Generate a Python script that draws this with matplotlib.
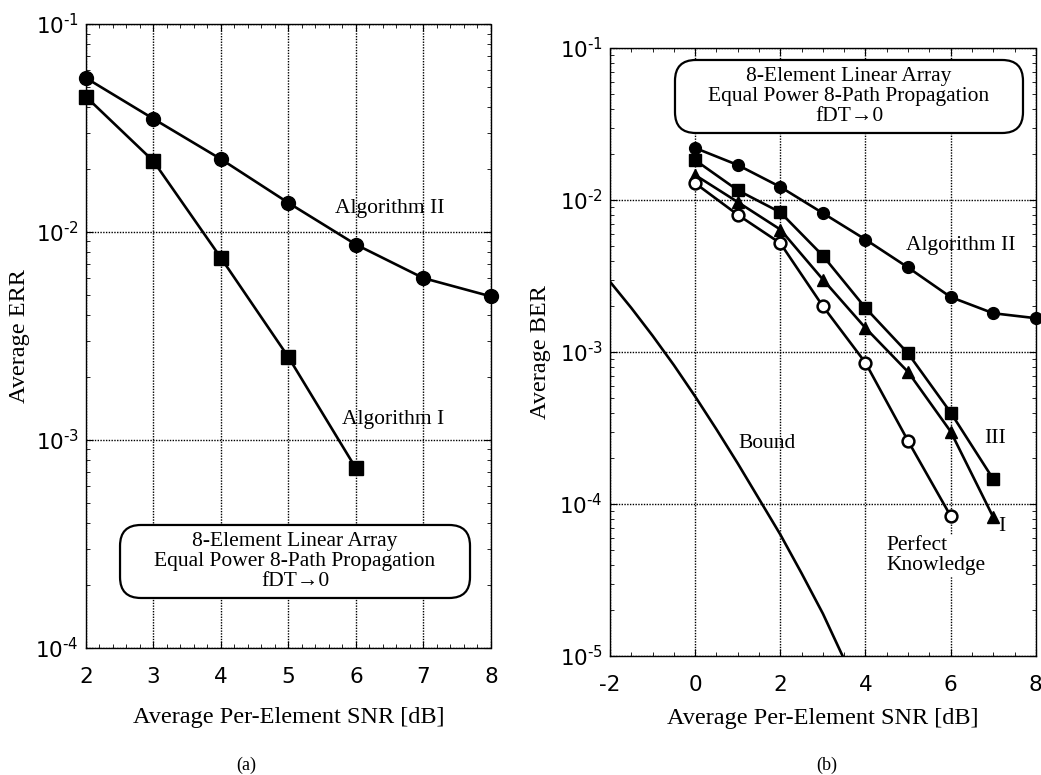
import matplotlib
matplotlib.use("Agg")
import matplotlib.pyplot as plt
from matplotlib.patches import FancyBboxPatch
from matplotlib.ticker import MultipleLocator, LogLocator, NullFormatter, FuncFormatter

# ---- data ----
# panel (a)
snr_a = [2, 3, 4, 5, 6, 7, 8]
err_alg2 = [0.055, 0.035, 0.0224, 0.0138, 0.0087, 0.0060, 0.0049]
snr_a1 = [2, 3, 4, 5, 6]
err_alg1 = [0.0447, 0.0219, 0.0075, 0.0025, 0.00073]

# panel (b)
snr_b2 = [0, 1, 2, 3, 4, 5, 6, 7, 8]
ber_alg2 = [0.022, 0.017, 0.0122, 0.0082, 0.0055, 0.0036, 0.0023, 0.0018, 0.00167]
snr_b = [0, 1, 2, 3, 4, 5, 6, 7]
ber_alg3 = [0.0183, 0.0116, 0.0083, 0.0043, 0.00195, 0.00098, 0.00040, 0.000146]
ber_alg1 = [0.0146, 0.0097, 0.0064, 0.0030, 0.00144, 0.00074, 0.00030, 0.000082]
snr_pk = [0, 1, 2, 3, 4, 5, 6]
ber_perfect = [0.0129, 0.0080, 0.0052, 0.0020, 0.00085, 0.00026, 0.0000834]
snr_bound = [-2, -1.5, -1, -0.5, 0, 0.5, 1, 1.5, 2, 2.5, 3, 3.5]
ber_bound = [2.9e-3, 1.95e-3, 1.28e-3, 8.2e-4, 5.1e-4, 3.1e-4, 1.85e-4,
             1.08e-4, 6.3e-5, 3.5e-5, 1.9e-5, 9.5e-6]

box_text = "8-Element Linear Array\nEqual Power 8-Path Propagation\nfDT\u21920"

serif = ['Liberation Serif', 'DejaVu Serif']
plt.rcParams['font.family'] = 'DejaVu Sans'
plt.rcParams['axes.unicode_minus'] = False

fig = plt.figure(figsize=(10.41, 7.75), dpi=100)
ax1 = fig.add_axes([0.0826, 0.164, 0.389, 0.805])
ax2 = fig.add_axes([0.586, 0.1535, 0.409, 0.7845])

lw = 1.9
lab_fs = 17.5
ann_fs = 15.5


def pow_label(v, pos):
    # 10 with a hyphen exponent, like the original
    e = int(round(__import__('math').log10(v)))
    return r'$\mathregular{10^{\text{-}%d}}$' % (-e) if e < 0 else r'$\mathregular{10^{%d}}$' % e


def style_axes(ax, minor_x):
    ax.set_yscale('log')
    ax.xaxis.set_minor_locator(MultipleLocator(minor_x))
    ax.yaxis.set_minor_locator(LogLocator(base=10, subs=range(2, 10)))
    ax.yaxis.set_minor_formatter(NullFormatter())
    ax.yaxis.set_major_formatter(FuncFormatter(pow_label))
    ax.tick_params(which='both', direction='in', top=True, right=True,
                   colors='black', labelsize=15.5)
    ax.tick_params(which='major', length=5, width=0.8, pad=14, axis='x')
    ax.tick_params(which='major', length=5, width=0.8, pad=5, axis='y')
    ax.tick_params(which='minor', length=3, width=0.6)
    ax.grid(True, which='major', linestyle=(0, (1, 1)), color='black', linewidth=1.0)
    for s in ax.spines.values():
        s.set_linestyle((0, (1, 1)))
        s.set_linewidth(1.0)


# ---- panel (a) ----
style_axes(ax1, 0.2)
ax1.plot(snr_a, err_alg2, '-o', color='black', lw=lw, ms=10, clip_on=False, zorder=3)
ax1.plot(snr_a1, err_alg1, '-s', color='black', lw=lw, ms=10, clip_on=False, zorder=3)
ax1.set_xlim(2, 8)
ax1.set_ylim(1e-4, 1e-1)
ax1.set_xticks([2, 3, 4, 5, 6, 7, 8])
ax1.set_xlabel('Average Per-Element SNR [dB]', family=serif, fontsize=lab_fs)
ax1.set_ylabel('Average ERR', family=serif, fontsize=lab_fs)
ax1.xaxis.label.set_va('center')
ax1.yaxis.label.set_va('center')
ax1.xaxis.set_label_coords(0.5, -0.112)
ax1.yaxis.set_label_coords(-0.163, 0.5)
ax1.text(6.5, 0.013, 'Algorithm II', family=serif, fontsize=ann_fs, ha='center', va='center')
ax1.text(6.55, 0.00125, 'Algorithm I', family=serif, fontsize=ann_fs, ha='center', va='center')

# ---- panel (b) ----
style_axes(ax2, 0.5)
ax2.plot(snr_bound, ber_bound, '-', color='black', lw=lw, zorder=3)
ax2.plot(snr_b2, ber_alg2, '-o', color='black', lw=lw, ms=8.5, clip_on=False, zorder=3)
ax2.plot(snr_b, ber_alg3, '-s', color='black', lw=lw, ms=9, clip_on=False, zorder=3)
ax2.plot(snr_b, ber_alg1, '-^', color='black', lw=lw, ms=8.5, clip_on=False, zorder=3)
ax2.plot(snr_pk, ber_perfect, '-o', color='black', lw=lw, ms=8.5, mfc='white',
         mew=1.8, clip_on=False, zorder=3)
ax2.set_xlim(-2, 8)
ax2.set_ylim(1e-5, 1e-1)
ax2.set_xticks([-2, 0, 2, 4, 6, 8])
ax2.set_xlabel('Average Per-Element SNR [dB]', family=serif, fontsize=lab_fs)
ax2.set_ylabel('Average BER', family=serif, fontsize=lab_fs)
ax2.xaxis.label.set_va('center')
ax2.yaxis.label.set_va('center')
ax2.xaxis.set_label_coords(0.5, -0.102)
ax2.yaxis.set_label_coords(-0.164, 0.5)
ax2.text(6.24, 0.005, 'Algorithm II', family=serif, fontsize=ann_fs, ha='center', va='center')
ax2.text(7.04, 2.7e-4, 'III', family=serif, fontsize=ann_fs, ha='center', va='center')
ax2.text(7.2, 7.1e-5, 'I', family=serif, fontsize=ann_fs, ha='center', va='center')
ax2.text(4.5, 4.6e-5, 'Perfect\nKnowledge', family=serif, fontsize=ann_fs, ha='left',
         va='center', linespacing=1.05,
         bbox=dict(facecolor='white', edgecolor='none', pad=1))
ax2.text(1.68, 2.5e-4, 'Bound', family=serif, fontsize=ann_fs, ha='center', va='center')

# ---- rounded annotation boxes ----
aspect = 1041 / 775
for (x0, y0, w, h, cx, cy) in [(0.1153, 0.2284, 0.3362, 0.0942, 0.2834, 0.2755),
                               (0.6484, 0.8284, 0.3343, 0.0942, 0.8156, 0.8755)]:
    box = FancyBboxPatch((x0, y0), w, h, transform=fig.transFigure,
                         boxstyle='round,pad=0,rounding_size=0.02',
                         mutation_aspect=aspect, facecolor='white',
                         edgecolor='black', linewidth=1.6, zorder=5)
    fig.patches.append(box)
    fig.text(cx, cy, box_text, family=serif, fontsize=ann_fs, ha='center', va='center',
             linespacing=1.08, zorder=6)

fig.text(246 / 1041, 1 - 765 / 775, '(a)', family=serif, fontsize=13, ha='center', va='center')
fig.text(827 / 1041, 1 - 765 / 775, '(b)', family=serif, fontsize=13, ha='center', va='center')

fig.savefig('out.png', dpi=100)
